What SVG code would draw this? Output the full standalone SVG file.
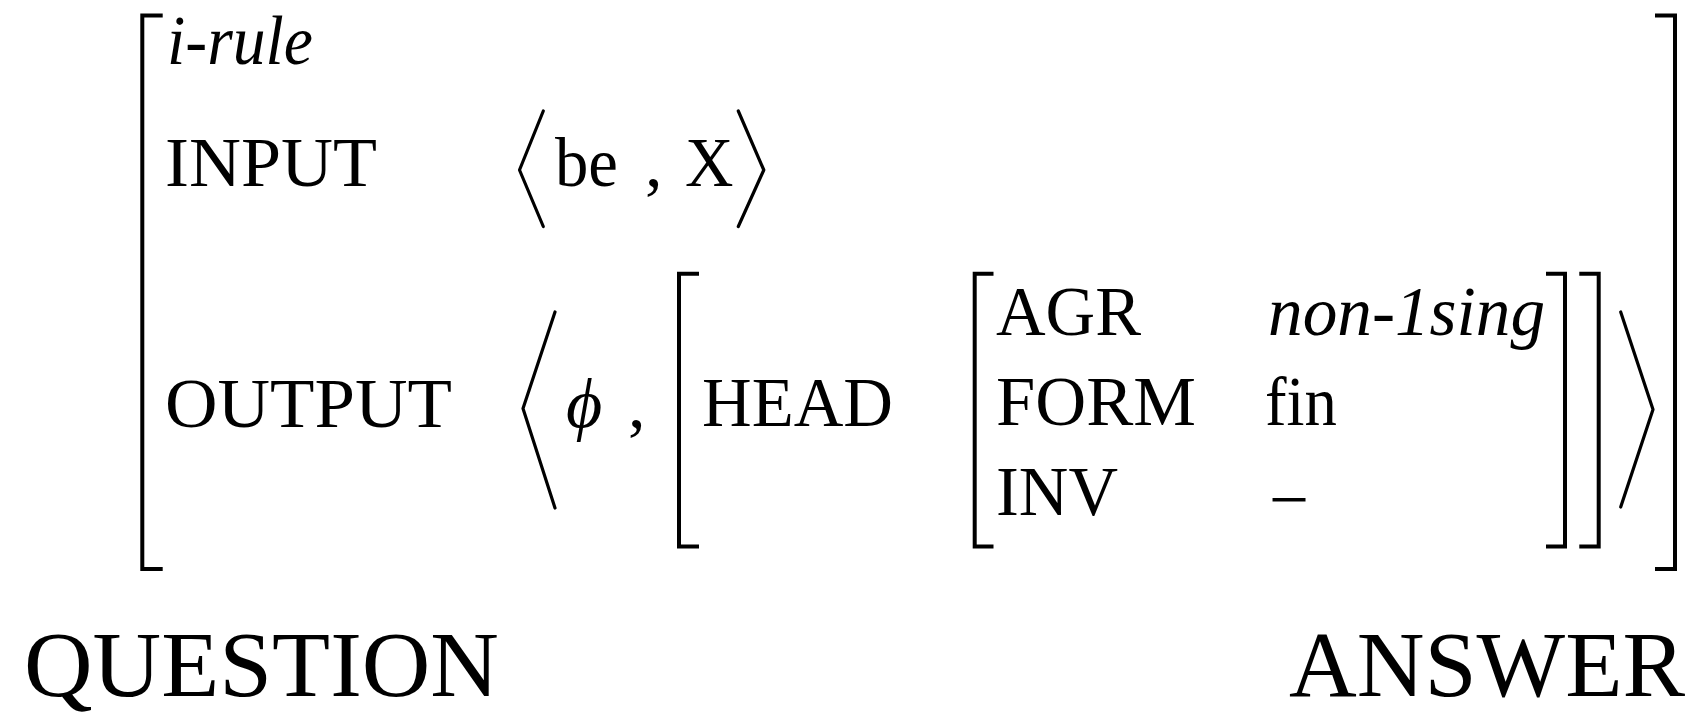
<svg xmlns="http://www.w3.org/2000/svg" width="1700" height="716" viewBox="0 0 1700 716">
<style>
.t{font-family:"Liberation Serif","Times New Roman",serif;font-size:70px;fill:#000}
.i{font-style:italic}
.big{font-size:93px}
.br{fill:none;stroke:#000;stroke-width:4;stroke-linejoin:miter;stroke-linecap:butt}
.ang{fill:none;stroke:#000;stroke-width:3.2;stroke-linejoin:round;stroke-linecap:round}
</style>
<rect width="1700" height="716" fill="#fff"/>
<g id="outer-avm">
  <path class="br" d="M162.7,15.5 H142.3 V569 H162.7"/>
  <path class="br" d="M1655,15.5 H1675 V569 H1655"/>
</g>
<g id="row-type">
  <text class="t i" x="167" y="64" textLength="146" lengthAdjust="spacingAndGlyphs" font-size="64">i-rule</text>
</g>
<g id="row-input">
  <text class="t" x="165" y="186" textLength="212" lengthAdjust="spacingAndGlyphs">INPUT</text>
  <polyline class="ang" points="543.3,111 519.5,170 543.3,226.5"/>
  <text class="t" x="555" y="186" textLength="63" lengthAdjust="spacingAndGlyphs">be</text>
  <text class="t" x="645" y="186">,</text>
  <text class="t" x="685" y="186" textLength="48.5" lengthAdjust="spacingAndGlyphs">X</text>
  <polyline class="ang" points="738.3,111 763.8,170 738.3,226.5"/>
</g>
<g id="row-output">
  <text class="t" x="165" y="427" textLength="287" lengthAdjust="spacingAndGlyphs">OUTPUT</text>
  <polyline class="ang" points="555,312 523,408.5 555,508"/>
  <text class="t i" x="566" y="427" font-family="'DejaVu Serif','Liberation Serif',serif" font-size="56">ϕ</text>
  <text class="t" x="628" y="427">,</text>
  <polyline class="ang" points="1620.7,312 1653,409.5 1620.7,507"/>
</g>
<g id="head-avm">
  <path class="br" d="M699,273.7 H679 V546.5 H699"/>
  <text class="t" x="702" y="426" textLength="191" lengthAdjust="spacingAndGlyphs">HEAD</text>
  <path class="br" d="M1579.3,273.7 H1598.7 V546.5 H1579.3"/>
</g>
<g id="head-value-avm">
  <path class="br" d="M993.5,273.7 H974.7 V546.5 H993.5"/>
  <text class="t" x="996" y="335" textLength="145" lengthAdjust="spacingAndGlyphs">AGR</text>
  <text class="t i" x="1268" y="335" textLength="277" lengthAdjust="spacingAndGlyphs">non-1sing</text>
  <text class="t" x="996" y="425" textLength="200" lengthAdjust="spacingAndGlyphs">FORM</text>
  <text class="t" x="1265" y="425" textLength="72" lengthAdjust="spacingAndGlyphs">fin</text>
  <text class="t" x="996" y="515" textLength="122" lengthAdjust="spacingAndGlyphs">INV</text>
  <text class="t" x="1269" y="523" textLength="40" lengthAdjust="spacingAndGlyphs">−</text>
  <path class="br" d="M1546,273.7 H1565 V546.5 H1546"/>
</g>
<g id="captions">
  <text class="t big" x="24" y="696" textLength="475" lengthAdjust="spacingAndGlyphs">QUESTION</text>
  <text class="t big" x="1289" y="696" textLength="396" lengthAdjust="spacingAndGlyphs">ANSWER</text>
</g>
</svg>
